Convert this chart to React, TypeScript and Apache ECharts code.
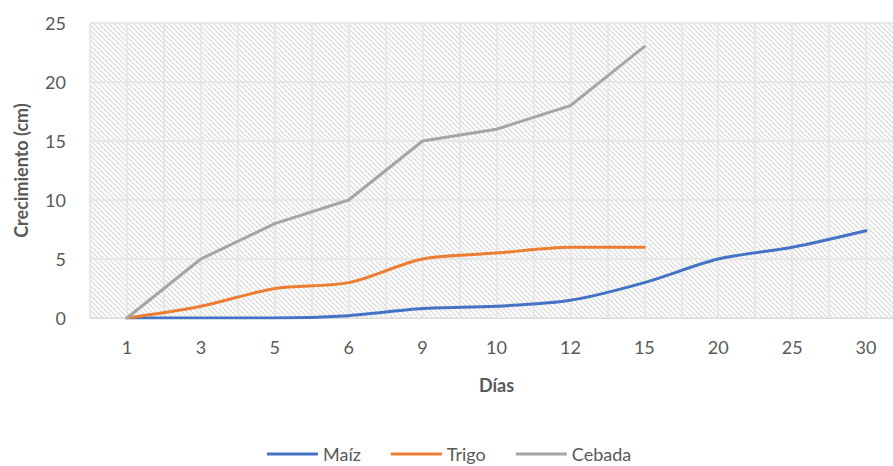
import React, { useEffect, useRef } from "react";
import * as echarts from "echarts";

const dias = ["1", "3", "5", "6", "9", "10", "12", "15", "20", "25", "30"];
const maiz = [0, 0, 0, 0.2, 0.8, 1, 1.5, 3, 5, 6, 7.4];
const trigo = [0, 1, 2.5, 3, 5, 5.5, 6, 6];
const cebada = [0, 5, 8, 10, 15, 16, 18, 23];

const FONT = "Lato, 'Open Sans', sans-serif";
const TEXT = "#595959";
const GRID = "#d9d9d9";

// Downward diagonal hatch tile used as the plot-area fill
function hatchTile(): HTMLCanvasElement {
  const s = 5;
  const c = document.createElement("canvas");
  c.width = s;
  c.height = s;
  const ctx = c.getContext("2d")!;
  ctx.fillStyle = "#ffffff";
  ctx.fillRect(0, 0, s, s);
  ctx.strokeStyle = "#dedede";
  ctx.lineWidth = 1.4;
  for (const o of [-s, 0, s]) {
    ctx.beginPath();
    ctx.moveTo(o - 1, -1);
    ctx.lineTo(o + s + 1, s + 1);
    ctx.stroke();
  }
  return c;
}

export default function App() {
  const ref = useRef<HTMLDivElement>(null);

  useEffect(() => {
    if (!ref.current) return;
    const chart = echarts.init(ref.current, null, { renderer: "svg" });
    const lineStyle = (color: string) => ({ color, width: 3, cap: "round" as const });
    chart.setOption({
      animation: false,
      backgroundColor: "#ffffff",
      textStyle: { fontFamily: FONT },
      grid: {
        left: 90,
        width: 813,
        top: 23,
        bottom: 148,
        outerBoundsMode: "none",
        containLabel: false,
        show: true,
        borderWidth: 0,
        backgroundColor: { image: hatchTile(), repeat: "repeat" },
      },
      legend: {
        top: 440,
        left: 262,
        itemWidth: 51,
        itemHeight: 3,
        itemGap: 30,
        icon: "rect",
        textStyle: { color: TEXT, fontSize: 18, fontFamily: FONT },
        data: ["Maíz", "Trigo", "Cebada"],
      },
      xAxis: [
        {
          type: "category",
          data: dias,
          boundaryGap: true,
          name: "Días",
          nameLocation: "middle",
          nameGap: 58,
          nameTextStyle: { color: TEXT, fontSize: 18, fontWeight: "bold", fontFamily: FONT },
          axisLine: { show: true, lineStyle: { color: GRID, width: 1 } },
          axisTick: { show: false },
          axisLabel: { color: TEXT, fontSize: 18, margin: 20, fontFamily: FONT },
          splitLine: { show: false },
        },
        {
          // half-category vertical rules
          type: "value",
          min: 0,
          max: dias.length * 2,
          interval: 1,
          position: "bottom",
          axisLine: { show: false },
          axisTick: { show: false },
          axisLabel: { show: false },
          splitLine: { show: true, lineStyle: { color: "#e3e3e3", width: 1.5 } },
        },
      ],
      yAxis: {
        type: "value",
        min: 0,
        max: 25,
        interval: 5,
        name: "Crecimiento (cm)",
        nameLocation: "middle",
        nameGap: 60,
        nameTextStyle: { color: TEXT, fontSize: 18, fontWeight: "bold", fontFamily: FONT },
        axisLine: { show: false },
        axisTick: { show: false },
        axisLabel: { color: TEXT, fontSize: 18, margin: 24, fontFamily: FONT },
        splitLine: { show: true, lineStyle: { color: "#e3e3e3", width: 1.5 } },
      },
      series: [
        {
          name: "Maíz",
          type: "line",
          data: maiz,
          smooth: 0.3,
          symbol: "none",
          color: "#4472C4",
          lineStyle: lineStyle("#4472C4"),
        },
        {
          name: "Trigo",
          type: "line",
          data: trigo,
          smooth: 0.3,
          symbol: "none",
          color: "#ED7D31",
          lineStyle: lineStyle("#ED7D31"),
        },
        {
          name: "Cebada",
          type: "line",
          data: cebada,
          smooth: false,
          symbol: "none",
          color: "#A5A5A5",
          lineStyle: lineStyle("#A5A5A5"),
        },
      ],
    });
    return () => chart.dispose();
  }, []);

  return (
    <div
      ref={ref}
      style={{ position: "fixed", left: 0, top: 0, width: 893, height: 466, overflow: "hidden" }}
    />
  );
}
